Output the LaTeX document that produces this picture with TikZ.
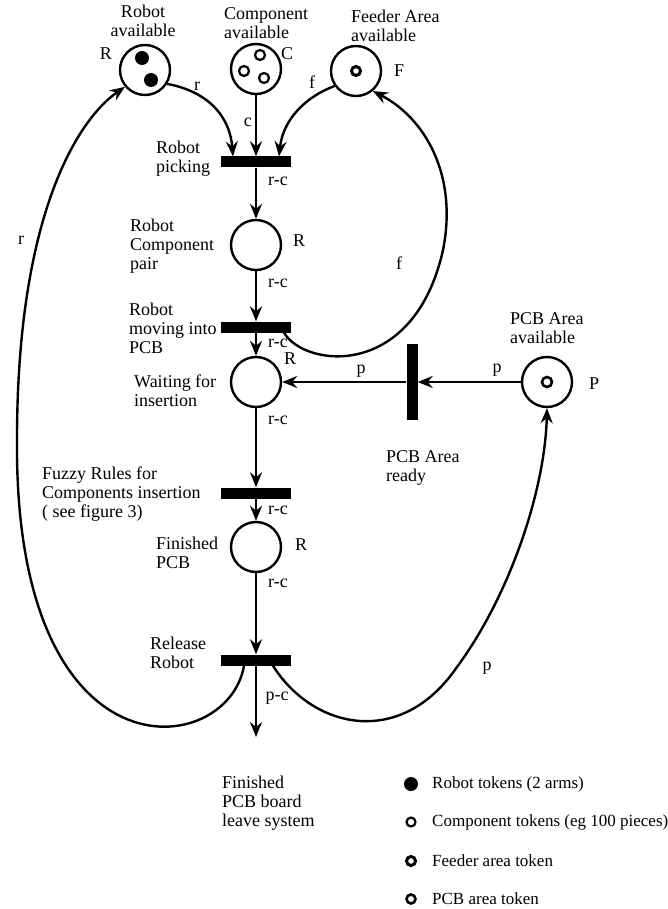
\documentclass[tikz,border=0pt]{standalone}
\usepackage{fontspec}
\setmainfont{Liberation Serif}
\usetikzlibrary{arrows.meta}

\tikzset{
  place/.style={circle, draw, line width=2.4pt, minimum size=50pt, inner sep=0pt},
  trans/.style={fill, minimum width=70pt, minimum height=11pt, inner sep=0pt},
  vtrans/.style={fill, minimum width=11pt, minimum height=76pt, inner sep=0pt},
  arc/.style={line width=2.4pt, -{Stealth[length=15pt, width=12pt, inset=5pt]}},
  lbl/.style={font=\fontsize{18}{19}\selectfont, inner sep=0pt},
  txt/.style={lbl, align=left, anchor=west},
  keytxt/.style={font=\fontsize{17}{19}\selectfont, inner sep=0pt, anchor=west},
}

\begin{document}
\begin{tikzpicture}[x=1pt, y=-1pt]
  \useasboundingbox (0,0) rectangle (667,909);
  % places
  \node[place] (RA) at (145,70) {};
  \node[place] (CA) at (256,69) {};
  \node[place] (FA) at (356,71) {};
  \node[place] (RC) at (256,245) {};
  \node[place] (WI) at (256,382) {};
  \node[place] (FP) at (256,547) {};
  \node[place] (PA) at (547,382) {};
  % transitions
  \node[trans] (T1) at (256,162) {};
  \node[trans] (T2) at (256,327) {};
  \node[trans] (T3) at (256,493) {};
  \node[trans] (T4) at (256,660) {};
  \node[vtrans] (T5) at (412,382) {};
  \coordinate (OUT) at (256,737);
  % tokens
  \fill (142,58) circle (7pt);
  \fill (151,80) circle (7pt);
  \draw[line width=2.2pt] (260,55) circle (5pt);
  \draw[line width=2.2pt] (244,71) circle (5pt);
  \draw[line width=2.2pt] (264,78) circle (5pt);
  \draw[line width=3pt] (356,71) circle (4.5pt);
  \draw[line width=2.6pt] (547,382) circle (5pt);
  % place and transition names
  \node[lbl, align=center] (RAname) at (143,21) {Robot\\available};
  \node[txt] (CAname) at (224,23) {Component\\available};
  \node[txt] (FAname) at (351,26) {Feeder Area\\available};
  \node[txt] (T1name) at (156,159) {Robot\\picking};
  \node[txt] (RCname) at (130,246) {Robot\\Component\\pair};
  \node[txt] (T2name) at (129,328) {Robot\\moving into\\PCB};
  \node[txt] (WIname) at (134,391) {Waiting for\\insertion};
  \node[txt] (T3name) at (42,494) {Fuzzy Rules for\\Components insertion\\( see figure 3)};
  \node[txt] (FPname) at (156,553) {Finished\\PCB};
  \node[txt] (T4name) at (150,653) {Release\\Robot};
  \node[txt] (OUTname) at (222,803) {Finished\\PCB board\\leave system};
  \node[txt] (T5name) at (386,468) {PCB Area\\ready};
  \node[txt] (PAname) at (510,328) {PCB Area\\available};
  % colour letters
  \node[lbl] (RAcol) at (106,54) {R};
  \node[lbl] (CAcol) at (287,54) {C};
  \node[lbl] (FAcol) at (399,71) {F};
  \node[lbl] (RCcol) at (299,241) {R};
  \node[lbl] (WIcol) at (290,359) {R};
  \node[lbl] (FPcol) at (301,545) {R};
  \node[lbl] (PAcol) at (594,384) {P};
  % arcs
  \draw[arc] (RA.-32) .. controls (210,92) and (230,118) .. ([xshift=-23pt]T1.north)
    node[lbl] (w1) at (197,86) {r};
  \draw[arc] (CA) -- node[lbl, pos=0.45, left=3pt] (w2) {c} (T1);
  \draw[arc] (FA.-145) .. controls (305,97) and (283,120) .. ([xshift=23pt]T1.north)
    node[lbl] (w3) at (312,82) {f};
  \draw[arc] (T1) -- (RC) node[lbl] (w4) at (278,181) {r-c};
  \draw[arc] (RC) -- (T2) node[lbl] (w5) at (278,283) {r-c};
  \draw[arc] (T2) -- (WI) node[lbl] (w6) at (278,343) {r-c};
  \draw[arc] (WI) -- (T3) node[lbl] (w7) at (278,420) {r-c};
  \draw[arc] (T3) -- (FP) node[lbl] (w8) at (278,510) {r-c};
  \draw[arc] (FP) -- (T4) node[lbl] (w9) at (278,583) {r-c};
  \draw[arc] (T4) -- (OUT) node[lbl] (w10) at (277,698) {p-c};
  \draw[arc] ([xshift=28pt]T2.south) .. controls (305,368) and (414,380) .. (443,250)
    .. controls (458,175) and (425,118) .. (FA.-50)
    node[lbl] (w11) at (399,263) {f};
  \draw[arc] ([xshift=-12pt]T4.south) .. controls (228,760) and (14,785) .. (17,440)
    .. controls (17,210) and (80,118) .. (RA.-140)
    node[lbl] (w12) at (21,240) {r};
  \draw[arc] ([xshift=17pt]T4.south) .. controls (312,728) and (400,750) .. (457,667)
    .. controls (510,595) and (545,490) .. (PA.south)
    node[lbl] (w13) at (487,668) {p};
  \draw[arc] (PA) -- (T5) node[lbl] (w14) at (497,370) {p};
  \draw[arc] (T5) -- (WI) node[lbl] (w15) at (361,371) {p};
  % legend
  \fill (411,784) circle (7pt);
  \draw[line width=2.2pt] (411,822) circle (4.5pt);
  \draw[line width=3pt] (411,861) circle (4.5pt);
  \draw[line width=2.6pt] (411,899) circle (4.5pt);
  \node[keytxt] (key1) at (432,784) {Robot tokens (2 arms)};
  \node[keytxt] (key2) at (432,822) {Component tokens (eg 100 pieces)};
  \node[keytxt] (key3) at (432,861) {Feeder area token};
  \node[keytxt] (key4) at (432,899) {PCB area token};
\end{tikzpicture}
\end{document}
